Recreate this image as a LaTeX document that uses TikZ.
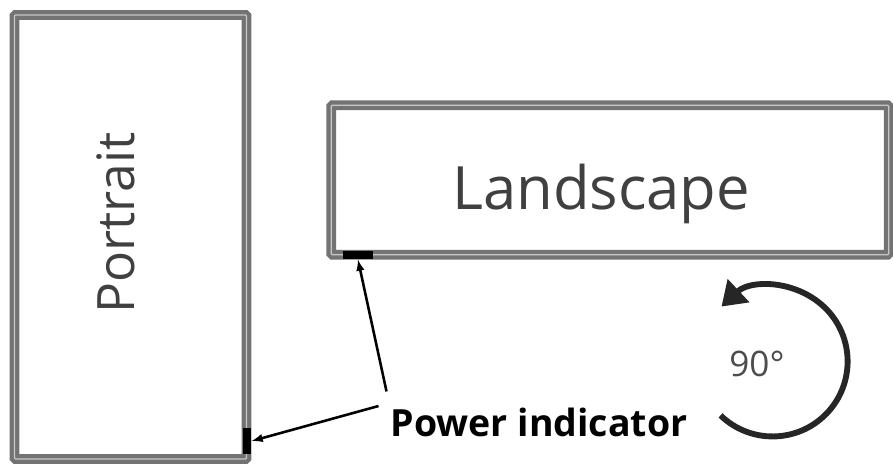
\documentclass[tikz,border=0pt]{standalone}
\usepackage{fontspec}
\setmainfont{Open Sans}
\usetikzlibrary{arrows.meta}

\begin{document}
\begin{tikzpicture}[x=0.03cm, y=-0.03cm,
        screen/.style={draw=black!55, line width=3.6pt, double=black!22, double distance=1.1pt, rounded corners=1pt, inner sep=0pt},
        indicator/.style={fill=black, inner sep=0pt},
        label/.style={text=black!75}]
            \useasboundingbox (0,0) rectangle (893,467);

            % the two screens
            \node[screen, minimum width=233*0.85pt, minimum height=446*0.85pt] (portrait) at (130.5,237) {};
            \node[screen, minimum width=560*0.85pt, minimum height=150*0.85pt] (landscape) at (610,180) {};

            \node[label, rotate=90, font=\fontsize{44}{48}\selectfont] (ptext) at (116,223) {Portrait};
            \node[label, font=\fontsize{51}{55}\selectfont] (ltext) at (601,194) {Landscape};

            % power indicators
            \node[indicator, minimum width=9*0.85pt, minimum height=27*0.85pt] (pind) at (247,441) {};
            \node[indicator, minimum width=30*0.85pt, minimum height=9*0.85pt] (lind) at (358,255) {};

            \node[font=\bfseries\fontsize{32}{36}\selectfont] (pwr) at (539,422) {Power indicator};

            \draw[line width=2.2pt, ->, >=latex] ([shift={(0,-12)}]pwr.north west) -- (lind.south);
            \draw[line width=2.2pt, ->, >=latex] ([shift={(-8,-16)}]pwr.west) -- (pind.east);

            % turning arrow
            \coordinate (rot) at (774,360);
            \draw[line width=5pt, black!85, -{Triangle[length=20pt, width=26pt]}] (rot) ++(134:77) arc [start angle=134, end angle=-133, radius=75];
            \node[text=black!70, font=\fontsize{30}{34}\selectfont] (deg) at (757,364) {90°};

        \end{tikzpicture}
\end{document}
